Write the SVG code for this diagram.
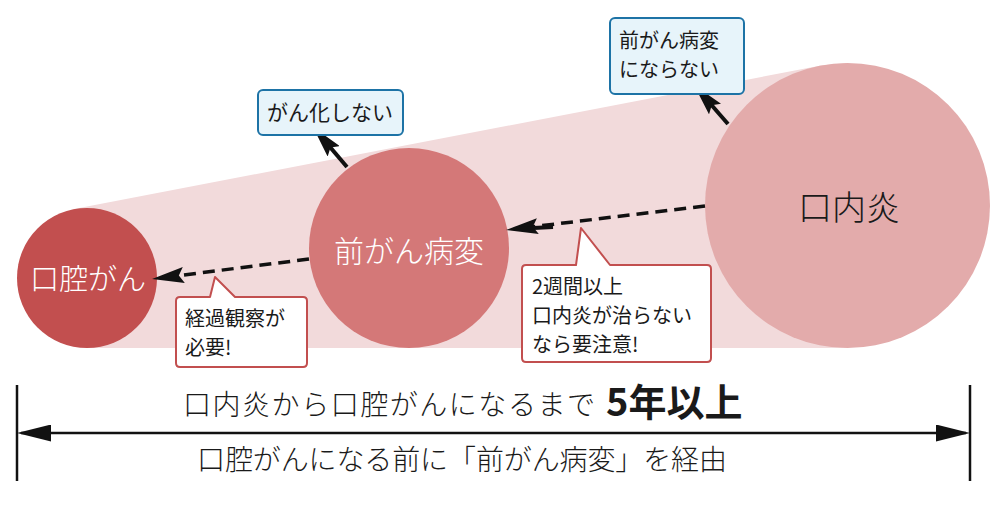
<svg xmlns="http://www.w3.org/2000/svg" width="997" height="528" viewBox="0 0 997 528">
<style>
text{font-family:"Noto Sans CJK JP","Noto Sans CJK SC",sans-serif;}
.w{fill:#fff;font-weight:300;}
.k{fill:#1a1a1a;}
.lt{font-weight:300;}
.blue{fill:#e7f4fa;stroke:#1d73a6;stroke-width:2;}
.red{fill:#fff;stroke:#c24f4f;stroke-width:2;stroke-linejoin:round;}
.dash{stroke:#111;stroke-width:3.5;stroke-dasharray:12 7;fill:none;}
.sol{stroke:#111;stroke-width:4;fill:none;}
.dim{stroke:#111;stroke-width:2.5;fill:none;}
</style>
<defs>
<marker id="ah" markerUnits="userSpaceOnUse" viewBox="0 0 32 16" markerWidth="32" markerHeight="16" refX="24" refY="8" orient="auto">
<path d="M0,0 L32,8 L0,16 L5,8 Z" fill="#111"/>
</marker>
<marker id="dh" markerUnits="userSpaceOnUse" viewBox="0 0 34 17" markerWidth="34" markerHeight="17" refX="30" refY="8.5" orient="auto-start-reverse">
<path d="M0,0 L34,8.5 L0,17 Z" fill="#111"/>
</marker>
</defs>
<polygon points="74,209 821,65.5 847.5,63 847.5,348 87,348 17,278" fill="#f2dadb"/>
<g id="node-koukugan">
<circle cx="87" cy="278" r="70" fill="#c24f4f"/>
<text x="88" y="290" font-size="29" text-anchor="middle" class="w">口腔がん</text>
</g>
<g id="node-zengan">
<circle cx="409" cy="248" r="100" fill="#d47878"/>
<text x="409" y="262" font-size="30" text-anchor="middle" class="w">前がん病変</text>
</g>
<g id="node-kounaien">
<circle cx="847.5" cy="205.5" r="142.5" fill="#e3abab"/>
<text x="849" y="220" font-size="34" text-anchor="middle" class="k lt">口内炎</text>
</g>
<g id="connectors">
<line x1="705" y1="206" x2="514" y2="229" class="dash" marker-end="url(#ah)"/>
<line x1="553" y1="227" x2="514" y2="229" class="sol" stroke-width="3.5"/>
<line x1="309" y1="259" x2="160" y2="278" class="dash" marker-end="url(#ah)"/>
<line x1="347" y1="167" x2="318.2" y2="133.1" class="sol" marker-end="url(#ah)"/>
<line x1="728" y1="124" x2="699.3" y2="91" class="sol" marker-end="url(#ah)"/>
</g>
<g id="note-gankashinai">
<rect x="258" y="90" width="145" height="45" rx="5" class="blue"/>
<text x="267" y="120" font-size="21" class="k">がん化しない</text>
</g>
<g id="note-zengannaranai">
<rect x="610" y="18" width="134" height="76" rx="5" class="blue"/>
<text font-size="20" class="k"><tspan x="619" y="48">前がん病変</tspan><tspan x="619" y="77">にならない</tspan></text>
</g>
<g id="note-keika">
<path d="M180,297 L210,297 L215,277 L235,297 L303,297 Q307,297 307,301 L307,363 Q307,367 303,367 L180,367 Q176,367 176,363 L176,301 Q176,297 180,297 Z" class="red"/>
<text font-size="20" class="k"><tspan x="185" y="326">経過観察が</tspan><tspan x="185" y="355">必要!</tspan></text>
</g>
<g id="note-2shukan">
<path d="M526,265 L576,265 L581,228 L610,265 L707,265 Q711,265 711,269 L711,358 Q711,362 707,362 L526,362 Q522,362 522,358 L522,269 Q522,265 526,265 Z" class="red"/>
<text font-size="20" class="k"><tspan x="532" y="294">2週間以上</tspan><tspan x="532" y="323">口内炎が治らない</tspan><tspan x="532" y="352">なら要注意!</tspan></text>
</g>
<g id="timeline">
<line x1="17" y1="385" x2="17" y2="481" class="dim"/>
<line x1="970" y1="385" x2="970" y2="481" class="dim"/>
<line x1="21" y1="433" x2="966" y2="433" class="dim" marker-start="url(#dh)" marker-end="url(#dh)"/>
<text x="183" y="415" font-size="28" class="k lt" textLength="412" lengthAdjust="spacing">口内炎から口腔がんになるまで</text>
<text x="606" y="416" font-size="38" font-weight="bold" class="k">5年以上</text>
<text x="197" y="470" font-size="28" class="k lt" textLength="530" lengthAdjust="spacing">口腔がんになる前に「前がん病変」を経由</text>
</g>
</svg>
